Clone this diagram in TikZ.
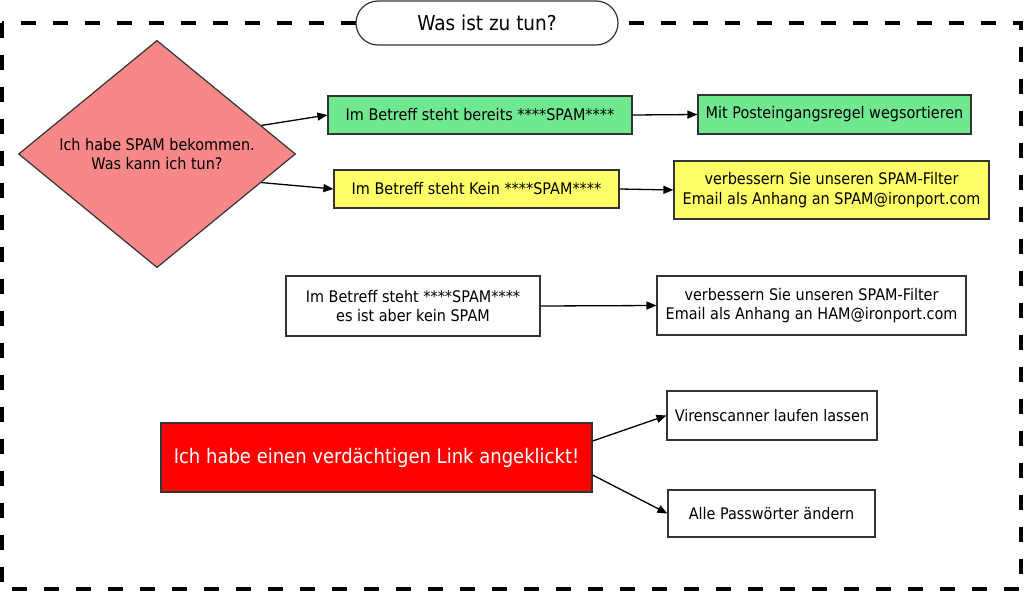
\documentclass[tikz,border=0pt]{standalone}
\usepackage{fontspec}
\setmainfont[FakeStretch=0.9]{DejaVu Sans}
\usepackage{tikz}
\usetikzlibrary{positioning, calc, shapes, arrows.meta}

\definecolor{salmon}{RGB}{248,136,136}
\definecolor{mint}{RGB}{112,232,144}
\definecolor{lemon}{RGB}{255,255,102}

\begin{document}
\begin{tikzpicture}[x=1pt,y=-1pt,->,>={Triangle[length=10pt,width=8pt]}, line width=1.3pt,
    box/.style={draw=black!80, line width=1.2pt, shape=rectangle, inner sep=0pt, align=center, font=\fontsize{16}{19.5}\selectfont},
    frame/.style={draw=black, line width=3.5pt, dash pattern=on 15pt off 17pt}]
  \useasboundingbox (0,0) rectangle (1024,591);
  \draw[-,frame] (2,23) rectangle (1021,589);
  \node[box, fill=white, rounded corners=22pt, minimum width=262pt, minimum height=44pt, font=\fontsize{20.5}{24}\selectfont] (title) at (487,23) {Was ist zu tun?};

  % Spam
  \node[box, shape=diamond, fill=salmon, minimum width=277pt, minimum height=226pt] (spam) at (157,154) {Ich habe SPAM bekommen.\\Was kann ich tun?};
  \node[box, fill=mint, minimum width=304pt, minimum height=38pt] (tagged) at (480,115) {Im Betreff steht bereits ****SPAM****};
  \node[box, fill=mint, minimum width=273pt, minimum height=39pt] (rule) at (834.5,114.5) {Mit Posteingangsregel wegsortieren};
  \node[box, fill=lemon, minimum width=285pt, minimum height=38pt] (untagged) at (476.5,189) {Im Betreff steht Kein ****SPAM****};
  \node[box, fill=lemon, minimum width=315pt, minimum height=58pt] (spamfilter) at (831.5,190) {verbessern Sie unseren SPAM-Filter\\Email als Anhang an SPAM@ironport.com};

  % Ham
  \node[box, minimum width=254pt, minimum height=60pt] (ham) at (413,306) {Im Betreff steht ****SPAM****\\es ist aber kein SPAM};
  \node[box, minimum width=309pt, minimum height=59pt] (hamfilter) at (811.5,305.5) {verbessern Sie unseren SPAM-Filter\\Email als Anhang an HAM@ironport.com};

  % Link
  \node[box, fill=red, text=white, minimum width=431pt, minimum height=69pt, font=\fontsize{20}{24}\selectfont] (link) at (376.5,457.5) {Ich habe einen verdächtigen Link angeklickt!};
  \node[box, minimum width=210pt, minimum height=49pt] (scan) at (772,415.5) {Virenscanner laufen lassen};
  \node[box, minimum width=207pt, minimum height=47pt] (pwd) at (771.5,513.5) {Alle Passwörter ändern};

  \path
    ($(spam.north east)!0.5!(spam.east)$) edge (tagged.west)
    ($(spam.east)!0.5!(spam.south east)$) edge (untagged.west)
    (tagged.east) edge (rule.west)
    (untagged.east) edge (spamfilter.west)
    (ham.east) edge (hamfilter.west)
    ([yshift=16.5pt]link.east) edge (scan.west)
    ([yshift=-17.5pt]link.east) edge (pwd.west);
\end{tikzpicture}
\end{document}
